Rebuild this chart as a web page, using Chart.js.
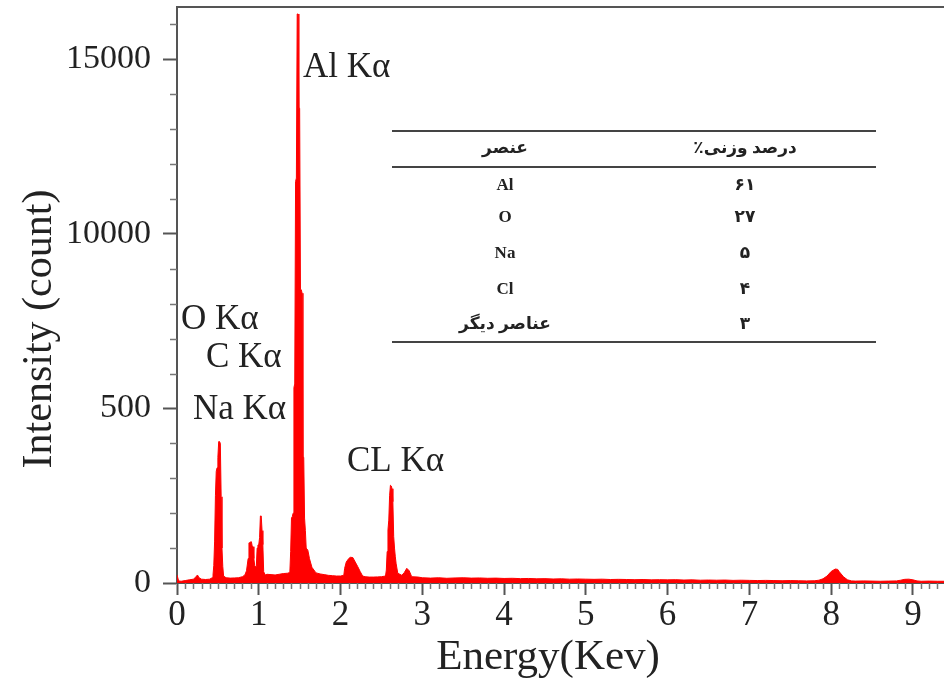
<!DOCTYPE html>
<html>
<head>
<meta charset="utf-8">
<script src="https://cdn.jsdelivr.net/npm/chart.js@4/dist/chart.umd.min.js"></script>
<style>
  html, body { margin: 0; padding: 0; background: #fff; }
  #wrap { position: relative; width: 944px; height: 688px; }
</style>
</head>
<body>
<div id="wrap"><canvas id="c"></canvas></div>
<script>
// ---- Data ----
const energyKeV = [
  0.00,0.01,0.02,0.05,0.10,0.15,0.20,0.23,0.25,0.27,0.30,0.35,0.40,0.43,
  0.44,0.45,0.46,0.47,0.48,0.49,0.50,0.51,0.52,0.53,0.54,0.55,0.56,0.57,
  0.60,0.65,0.70,0.75,0.80,0.83,0.85,0.87,0.88,0.89,0.90,0.91,0.92,0.93,
  0.94,0.95,0.96,0.97,0.98,0.99,1.00,1.01,1.02,1.03,1.04,1.05,1.06,1.08,
  1.10,1.15,1.20,1.25,1.30,1.35,1.38,1.39,1.40,1.41,1.42,1.43,1.44,1.45,
  1.46,1.47,1.48,1.49,1.50,1.51,1.52,1.53,1.54,1.55,1.56,1.57,1.58,1.60,
  1.62,1.65,1.70,1.75,1.80,1.85,1.90,1.95,2.00,2.04,2.05,2.07,2.10,2.12,
  2.15,2.18,2.21,2.24,2.27,2.30,2.35,2.40,2.45,2.50,2.55,2.56,2.57,2.58,
  2.59,2.60,2.61,2.62,2.63,2.64,2.65,2.66,2.67,2.68,2.70,2.75,2.78,2.81,
  2.84,2.87,2.95,
  3.0,3.1,3.2,3.3,3.4,3.5,3.6,3.7,3.8,3.9,
  4.0,4.1,4.2,4.3,4.4,4.5,4.6,4.7,4.8,4.9,
  5.0,5.1,5.2,5.3,5.4,5.5,5.6,5.7,5.8,5.9,
  6.0,6.1,6.2,6.3,6.4,6.5,6.6,6.7,6.8,6.9,
  7.0,7.1,7.2,7.3,7.4,7.5,7.6,7.7,7.8,7.85,7.9,7.95,
  8.0,8.05,8.08,8.1,8.15,8.2,8.25,8.3,8.4,8.5,8.6,8.7,8.8,8.85,8.9,8.95,
  9.0,9.05,9.1,9.2,9.3,9.38
];
const counts = [
  230,230,60,50,70,90,110,170,230,150,110,100,110,150,
  220,500,1200,2500,3200,3300,3600,4050,4050,4000,2470,1000,470,200,
  150,140,145,150,180,230,350,700,1150,1150,1180,1180,1050,1040,
  700,500,470,470,1000,1090,1100,1300,1920,1920,1500,1100,320,230,
  250,240,230,250,270,280,300,900,1860,1900,2000,5600,5700,11500,
  11600,16300,16300,13600,13600,8400,8400,8300,3600,3600,1860,1500,1000,940,
  700,450,290,260,240,220,210,200,200,220,420,600,700,736,
  730,600,470,330,200,180,170,170,175,180,200,372,900,1520,
  1800,2500,2800,2780,2700,2330,1330,1000,750,550,280,220,300,420,
  350,180,170,
  150,140,150,135,145,150,140,145,135,140,
  130,135,125,130,120,125,115,120,110,115,
  110,105,110,100,105,100,95,100,90,95,
  90,95,85,90,80,85,80,85,75,80,
  75,70,75,70,65,70,65,60,65,80,120,200,
  330,400,390,320,180,90,60,55,60,55,50,55,60,80,105,110,
  90,60,50,55,50,50
];
const yTickValues = [0, 5000, 10000, 15000];
const yTickLabels = ['0', '500', '10000', '15000'];
const xTickValues = [0, 1, 2, 3, 4, 5, 6, 7, 8, 9];
const xTitle = 'Energy(Kev)';
const yTitle = 'Intensity (count)';
const peakLabels = ['Al K\u03B1', 'O K\u03B1', 'C K\u03B1', 'Na K\u03B1', 'CL K\u03B1'];
const tableHeader = ['عنصر', 'درصد وزنی٪'];
const tableElements = ['Al', 'O', 'Na', 'Cl', 'عناصر دیگر'];
const tableWeights = ['۶۱', '۲۷', '۵', '۴', '۳'];

// ---- presentation ----
const SERIF = '"Liberation Serif", "Times New Roman", serif';
const TEXT = '#222';
const AXIS = '#555';
const points = energyKeV.map((e, i) => ({ x: e, y: counts[i] }));

function noPad(s) { s.paddingTop = 0; s.paddingBottom = 0; s.paddingLeft = 0; s.paddingRight = 0; }

const decor = {
  id: 'decor',
  afterDatasetsDraw(chart) {
    const { ctx, chartArea: a, scales: { x, y } } = chart;
    ctx.save();
    // top frame line
    ctx.strokeStyle = AXIS; ctx.lineWidth = 2;
    ctx.beginPath(); ctx.moveTo(a.left - 1, a.top); ctx.lineTo(a.right, a.top); ctx.stroke();
    // minor ticks
    ctx.strokeStyle = '#777'; ctx.lineWidth = 1.5;
    ctx.beginPath();
    for (let v = 1000; v <= 16000; v += 1000) {
      if (v % 5000 === 0) continue;
      const py = Math.round(y.getPixelForValue(v)) + 0.5;
      ctx.moveTo(a.left - 7, py); ctx.lineTo(a.left, py);
    }
    for (let k = 1; k <= 93; k++) {
      if (k % 10 === 0) continue;
      const px = Math.round(x.getPixelForValue(k / 10)) + 0.5;
      ctx.moveTo(px, a.bottom); ctx.lineTo(px, a.bottom + 6);
    }
    ctx.stroke();

    // axis titles
    ctx.fillStyle = TEXT;
    ctx.textAlign = 'center'; ctx.textBaseline = 'middle';
    ctx.font = '43px ' + SERIF;
    ctx.fillText(xTitle, 548, 658);
    ctx.font = '42px ' + SERIF;
    ctx.save();
    ctx.translate(40, 329); ctx.rotate(-Math.PI / 2);
    ctx.fillText(yTitle, 0, 0);
    ctx.restore();

    // peak labels
    ctx.font = '35px ' + SERIF; ctx.textAlign = 'left';
    const pl = [[303, 68], [181, 320], [206, 358], [193, 410], [347, 462]];
    peakLabels.forEach((t, i) => ctx.fillText(t, pl[i][0], pl[i][1]));

    // composition table
    ctx.strokeStyle = '#444'; ctx.lineWidth = 2;
    [131, 167, 342].forEach(ly => {
      ctx.beginPath(); ctx.moveTo(392, ly); ctx.lineTo(876, ly); ctx.stroke();
    });
    ctx.font = 'bold 17px ' + SERIF + ', "DejaVu Sans"';
    ctx.textAlign = 'center';
    ctx.direction = 'rtl';
    ctx.fillText(tableHeader[0], 505, 149);
    ctx.fillText(tableHeader[1], 745, 149);
    const rows = [186, 218, 254, 290, 325];
    tableElements.forEach((t, i) => {
      ctx.direction = /[A-Za-z]/.test(t) ? 'ltr' : 'rtl';
      ctx.fillText(t, 505, rows[i]);
    });
    ctx.direction = 'rtl';
    tableWeights.forEach((t, i) => ctx.fillText(t, 745, rows[i]));
    ctx.restore();
  }
};

new Chart(document.getElementById('c'), {
  type: 'line',
  data: {
    datasets: [{
      data: points,
      borderColor: '#ff0000',
      backgroundColor: '#ff0000',
      borderWidth: 1,
      pointRadius: 0,
      fill: 'origin',
      tension: 0
    }]
  },
  options: {
    responsive: true,
    maintainAspectRatio: false,
    animation: false,
    layout: { padding: { top: 7, right: 0, left: 0, bottom: 0 } },
    plugins: { legend: { display: false }, tooltip: { enabled: false } },
    scales: {
      x: {
        type: 'linear', min: 0, max: 9.38,
        afterFit(s) { s.height = 105; noPad(s); },
        afterBuildTicks(s) { s.ticks = xTickValues.map(v => ({ value: v })); },
        ticks: { color: TEXT, font: { family: SERIF, size: 35 }, padding: 0, maxRotation: 0, autoSkip: false },
        grid: { drawOnChartArea: false, drawTicks: true, tickLength: 12, tickColor: AXIS, tickWidth: 2 },
        border: { display: true, color: AXIS, width: 2 }
      },
      y: {
        type: 'linear', min: 0, max: 16500,
        afterFit(s) { s.width = 177; noPad(s); },
        afterBuildTicks(s) { s.ticks = yTickValues.map(v => ({ value: v })); },
        ticks: {
          color: TEXT, font: { family: SERIF, size: 34 }, padding: 12, autoSkip: false,
          callback: (v) => yTickLabels[yTickValues.indexOf(v)]
        },
        grid: { drawOnChartArea: false, drawTicks: true, tickLength: 14, tickColor: AXIS, tickWidth: 2 },
        border: { display: true, color: AXIS, width: 2 }
      }
    }
  },
  plugins: [decor]
});
</script>
</body>
</html>
